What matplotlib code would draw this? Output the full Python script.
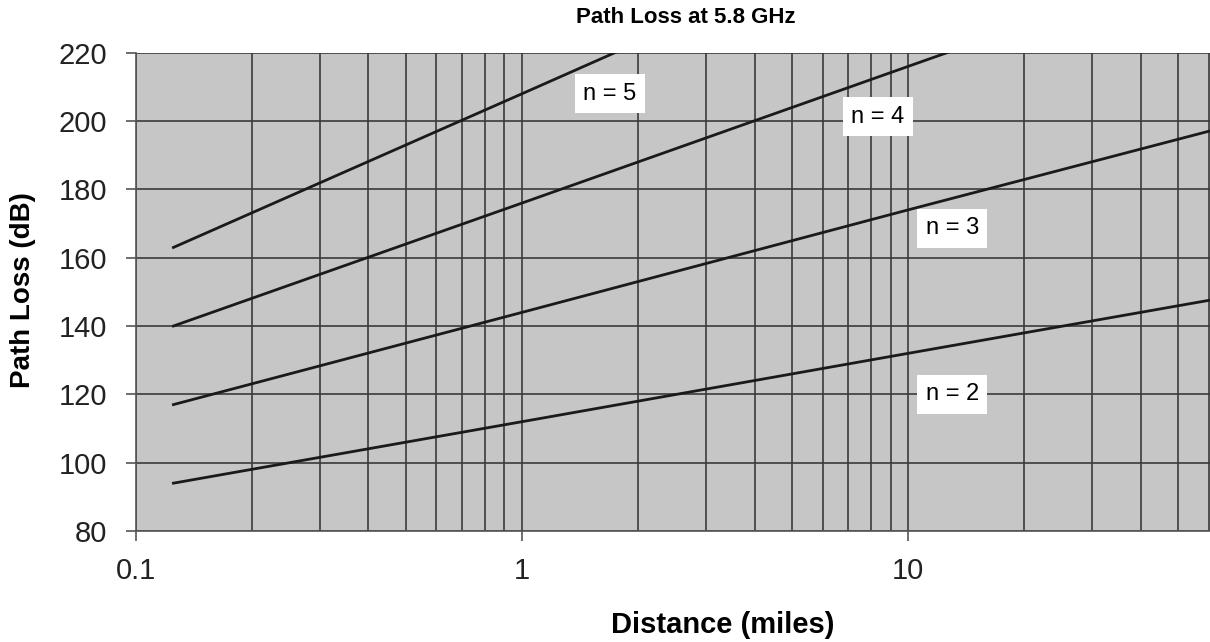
import matplotlib
matplotlib.use("Agg")
import matplotlib.pyplot as plt
from matplotlib.ticker import FixedLocator, LogLocator, NullFormatter

plt.rcParams['font.family'] = ['Liberation Sans', 'DejaVu Sans']

# distances (miles) and path loss (dB)
distance = [0.125, 1, 10, 60]
loss_n2 = [94, 112, 132, 147.5]
loss_n3 = [117, 144, 174, 197]
loss_n4 = [140, 176, 216, 247]
loss_n5 = [163, 208, 258, 297]

series = [loss_n2, loss_n3, loss_n4, loss_n5]
labels = ['n = 2', 'n = 3', 'n = 4', 'n = 5']
label_x = [13.0, 13.0, 8.35, 1.69]
label_y = [120, 168.6, 201.3, 208]

fig = plt.figure(figsize=(12.10, 6.42), dpi=100)
ax = fig.add_axes([0.1124, 0.1729, 0.8876, 0.745])
ax.set_facecolor('#c6c6c6')

for vals in series:
    ax.plot(distance, vals, color='#1a1a1a', lw=2.0, zorder=3)

for txt, x, y in zip(labels, label_x, label_y):
    ax.text(x, y, txt, fontsize=17, ha='center', va='center', zorder=4,
            bbox=dict(facecolor='white', edgecolor='none', pad=6))

ax.set_xscale('log')
ax.set_xlim(0.1, 60.5)
ax.set_ylim(80, 220)
ax.set_yticks(range(80, 221, 20))
ax.xaxis.set_major_locator(FixedLocator([0.1, 1, 10]))
ax.set_xticklabels(['0.1', '1', '10'])
ax.xaxis.set_minor_locator(LogLocator(base=10, subs=range(2, 10)))
ax.xaxis.set_minor_formatter(NullFormatter())

ax.grid(True, which='both', axis='x', color='#3a3a3a', lw=1.2)
ax.grid(True, which='major', axis='y', color='#3a3a3a', lw=1.2)
ax.set_axisbelow(True)

for side in ['top', 'right']:
    ax.spines[side].set_visible(False)
for side in ['left', 'bottom']:
    ax.spines[side].set_color('#555555')
    ax.spines[side].set_linewidth(1.2)

ax.tick_params(axis='both', which='major', labelsize=21, colors='#555555',
               labelcolor='#222222', length=7, width=1.2, direction='out')
ax.tick_params(axis='x', which='major', pad=12)
ax.tick_params(axis='y', which='major', pad=14)
ax.tick_params(axis='x', which='minor', length=0)

# the source chart was cropped on the right, so the texts sit off-centre
ax.set_title('Path Loss at 5.8 GHz', fontsize=16, fontweight='bold',
             x=0.512, y=1.073, va='center', pad=0)
ax.set_xlabel('Distance (miles)', fontsize=21, fontweight='bold')
ax.xaxis.set_label_coords(0.5466, -0.197)
ax.set_ylabel('Path Loss (dB)', fontsize=20, fontweight='bold')
ax.yaxis.set_label_coords(-0.105, 0.504)
ax.xaxis.label.set_va('center')
ax.yaxis.label.set_va('center')

fig.savefig('out.png', dpi=100)
